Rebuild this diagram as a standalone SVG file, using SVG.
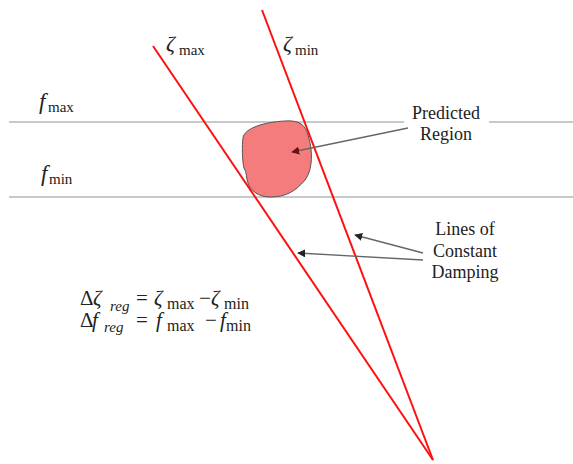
<svg xmlns="http://www.w3.org/2000/svg" width="573" height="464" viewBox="0 0 573 464">
<defs>
<style>
text{font-family:'Liberation Serif','DejaVu Serif','Noto Serif','Times New Roman',serif;fill:#222}
.i{font-style:italic}
.grid{stroke:#c8c8c8;stroke-width:2;fill:none}
.red{stroke:#ff1010;stroke-width:2;fill:none}
.arr{stroke:#666;stroke-width:1.3;fill:none}
</style>
<marker id="ah" viewBox="0 0 10 10" refX="9" refY="5" markerWidth="8" markerHeight="8" orient="auto" markerUnits="userSpaceOnUse">
<path d="M0,0 L10,5 L0,10 Z" fill="#222"/>
</marker>
<marker id="ahr" viewBox="0 0 10 10" refX="9" refY="5" markerWidth="8" markerHeight="8" orient="auto" markerUnits="userSpaceOnUse">
<path d="M0,0 L10,5 L0,10 Z" fill="#6b0f0f"/>
</marker>
</defs>
<rect width="573" height="464" fill="#fff"/>
<g id="fmax-line"><path class="grid" d="M9,122 H404 M489,122 H573"/></g>
<g id="fmin-line"><path class="grid" d="M9,197 H573"/></g>
<g id="region">
<path d="M243,138 C244,128 265,122 285,121 C300,120 305,125 308,135 C313,150 313,170 305,180 C295,192 285,197 270,197 C258,197 250,190 248,183 C246,178 247,172 244,168 C242,160 242,145 243,138 Z" fill="#f47c7c" stroke="#555" stroke-width="1"/>
</g>
<g id="zeta-max-line"><path class="red" d="M153,46 L433,460"/></g>
<g id="zeta-min-line"><path class="red" d="M262,10 L433,460"/></g>
<g id="connectors">
<path class="arr" d="M408,128 L292,152" marker-end="url(#ahr)"/>
<path class="arr" d="M423,253 L355,235" marker-end="url(#ah)"/>
<path class="arr" d="M423,260 L298,253" marker-end="url(#ah)"/>
</g>
<g id="label-zeta-max"><text class="i" x="166" y="51" font-size="22">ζ</text><text x="179" y="55" font-size="15">max</text></g>
<g id="label-zeta-min"><text class="i" x="283" y="51" font-size="22">ζ</text><text x="295" y="55" font-size="15">min</text></g>
<g id="label-fmax"><text class="i" x="39" y="109" font-size="23">f</text><text x="48" y="112" font-size="15">max</text></g>
<g id="label-fmin"><text class="i" x="41" y="181" font-size="23">f</text><text x="49" y="184" font-size="15">min</text></g>
<g id="label-predicted"><text text-anchor="middle" font-size="18"><tspan x="446" y="119">Predicted</tspan><tspan x="446" y="140">Region</tspan></text></g>
<g id="label-damping"><text text-anchor="middle" font-size="18"><tspan x="465" y="235">Lines of</tspan><tspan x="465" y="257">Constant</tspan><tspan x="465" y="278">Damping</tspan></text></g>
<g id="eq1">
<text x="80" y="305" font-size="21">Δ</text>
<text class="i" x="93" y="305" font-size="21">ζ</text>
<text class="i" x="110" y="311" font-size="15">reg</text>
<text x="136" y="305" font-size="21">=</text>
<text class="i" x="154" y="305" font-size="21">ζ</text>
<text x="167" y="309" font-size="16">max</text>
<text x="199" y="305" font-size="21">−</text>
<text class="i" x="211" y="305" font-size="21">ζ</text>
<text x="224" y="309" font-size="16">min</text>
</g>
<g id="eq2">
<text x="80" y="327" font-size="21">Δ</text>
<text class="i" x="92" y="327" font-size="21">f</text>
<text class="i" x="104" y="332" font-size="15">reg</text>
<text x="136" y="327" font-size="21">=</text>
<text class="i" x="156" y="327" font-size="21">f</text>
<text x="167" y="331" font-size="16">max</text>
<text x="205" y="327" font-size="21">−</text>
<text class="i" x="220" y="327" font-size="21">f</text>
<text x="226" y="331" font-size="16">min</text>
</g>
</svg>
